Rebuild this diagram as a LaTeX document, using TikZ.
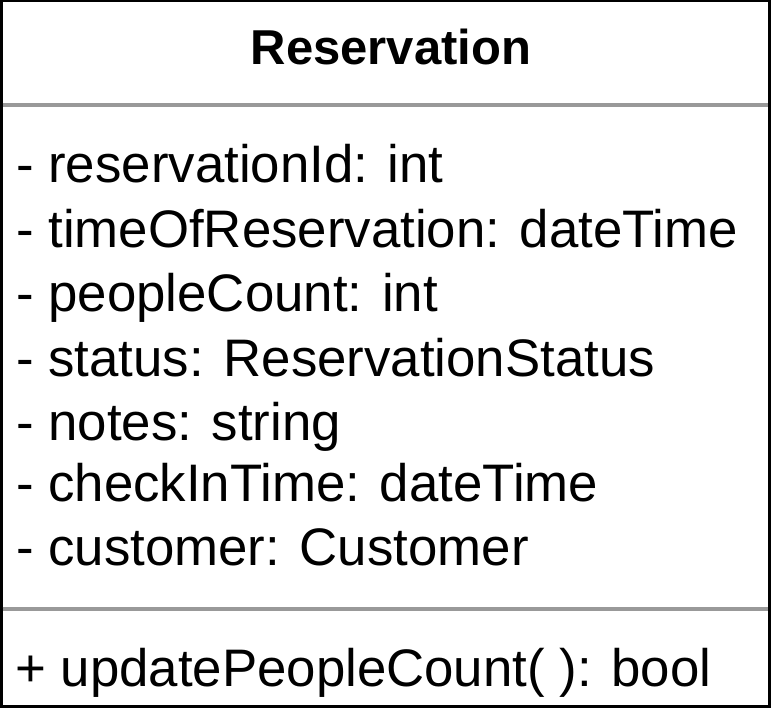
\documentclass[tikz,border=0pt]{standalone}
\usepackage{fontspec}
\setmainfont{Liberation Sans}
\begin{document}
\begin{tikzpicture}[x=1pt,y=-1pt,
  classframe/.style={draw=black,line width=2.5pt},
  divider/.style={draw=black!40,line width=3.5pt},
  titletext/.style={font=\fontsize{49}{58}\selectfont\bfseries,inner sep=0pt,anchor=base},
  membertext/.style={font=\fontsize{52.8}{62}\selectfont,inner sep=0pt,anchor=base west}]
  \useasboundingbox (0,0) rectangle (772,708);
  % class box and compartment dividers
  \draw[classframe] (1.25,1.25) rectangle (769.5,706.5);
  \coordinate (d1l) at (2.5,105);  \coordinate (d1r) at (768,105);
  \coordinate (d2l) at (2.5,609);  \coordinate (d2r) at (768,609);
  \draw[divider] (d1l) -- (d1r);
  \draw[divider] (d2l) -- (d2r);
  % class name
  \node[titletext] (title) at (391,65) {Reservation};
  % attributes
  \node[membertext] (a1) at (16,183) {- reservationId: int};
  \node[membertext] (a2) at (16,248) {- timeOfReservation: dateTime};
  \node[membertext] (a3) at (16,312) {- peopleCount: int};
  \node[membertext] (a4) at (16,377) {- status: ReservationStatus};
  \node[membertext] (a5) at (16,441) {- notes: string};
  \node[membertext] (a6) at (16,502) {- checkInTime: dateTime};
  \node[membertext] (a7) at (16,566) {- customer: Customer};
  % operations
  \node[membertext] (m1) at (15,686) {+ updatePeopleCount( ): bool};
\end{tikzpicture}
\end{document}
